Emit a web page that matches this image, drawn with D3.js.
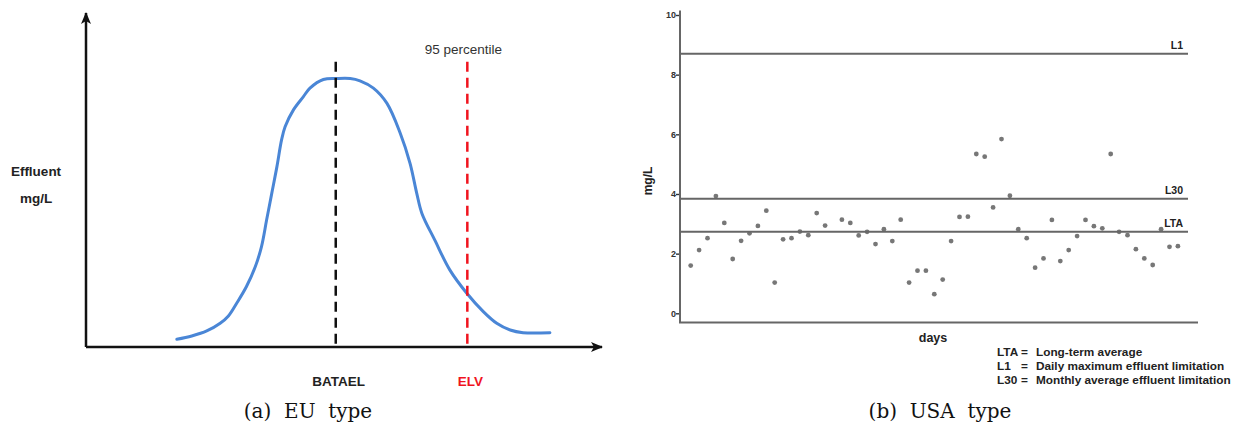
<!DOCTYPE html>
<html>
<head>
<meta charset="utf-8">
<script src="https://cdn.jsdelivr.net/npm/d3@7"></script>
<style>
  body { margin: 0; background: #fff; }
  svg { display: block; font-family: "Liberation Sans", Arial, sans-serif; }
</style>
</head>
<body>
<div class="vis"></div>
<script>
  let width = 1237
  let height = 427

  // (a) EU type: concentration distribution (x = concentration, y = frequency, 0..100)
  let curveX = [17.6, 20.5, 23.4, 26.0, 27.6, 29.2, 31.1, 32.8, 34.0, 35.0, 36.0, 37.0, 37.9, 38.6, 40.2, 42.1, 43.4,
    46.0, 48.6, 51.2, 53.1, 55.7, 58.3, 60.9, 62.8, 64.1, 65.1, 67.6, 70.5, 73.8, 77.0, 79.6, 82.2, 84.7, 89.9]
  let curveY = [2.3, 3.3, 4.8, 7.1, 9.3, 13.1, 18.1, 24.0, 30.0, 38.0, 46.0, 54.0, 62.0, 66.0, 71.0, 74.9, 77.5,
    80.1, 80.4, 80.4, 79.7, 77.5, 73.0, 64.0, 55.0, 46.0, 40.0, 32.0, 23.1, 16.1, 10.6, 7.1, 5.1, 4.3, 4.3]
  let markerNames = ['BATAEL', 'ELV']
  let markerX = [48.4, 73.9]
  let markerTop = 85.4

  // (b) USA type: daily effluent samples (mg/L), one per day, null = no sample
  let dailyValues = [1.60, 2.12, 2.52, 3.93, 3.03, 1.82, 2.43, 2.68, 2.93, 3.44, 1.03, 2.48, 2.52, 2.74, 2.62, 3.36,
    2.94, null, 3.14, 3.03, 2.61, 2.73, 2.32, 2.82, 2.42, 3.14, 1.03, 1.43, 1.43, 0.64, 1.13, 2.42, 3.23, 3.24,
    5.34, 5.25, 3.55, 5.84, 3.94, 2.82, 2.52, 1.53, 1.84, 3.13, 1.75, 2.12, 2.59, 3.13, 2.92, 2.85, 5.34, 2.73,
    2.62, 2.15, 1.84, 1.62, 2.82, 2.23, 2.25]
  let limitNames = ['L1', 'L30', 'LTA']
  let limitValues = [8.70, 3.84, 2.73]
  let yTicks = [0, 2, 4, 6, 8, 10]
  let legendKeys = ['LTA', 'L1', 'L30']
  let legendTexts = ['Long-term average', 'Daily maximum effluent limitation', 'Monthly average effluent limitation']

  let svg = d3.select('.vis').append('svg')
    .attr('width', width)
    .attr('height', height)
    .attr('viewBox', [0, 0, width, height])

  let defs = svg.append('defs')
  defs.append('marker')
    .attr('id', 'arrow')
    .attr('viewBox', '0 0 12 10')
    .attr('refX', 11)
    .attr('refY', 5)
    .attr('markerWidth', 12)
    .attr('markerHeight', 10)
    .attr('markerUnits', 'userSpaceOnUse')
    .attr('orient', 'auto')
    .append('path')
    .attr('d', 'M0,0 L12,5 L0,10 L3,5 Z')
    .attr('fill', '#111')

  // ---------- (a) EU type ----------
  let xA = d3.scaleLinear().domain([0, 100]).range([86, 602])
  let yA = d3.scaleLinear().domain([0, 100]).range([347, 13])

  let gA = svg.append('g')

  gA.append('line')
    .attr('x1', xA(0)).attr('y1', yA(0))
    .attr('x2', xA(0)).attr('y2', yA(100))
    .attr('stroke', '#111').attr('stroke-width', 2.5)
    .attr('marker-end', 'url(#arrow)')

  gA.append('line')
    .attr('x1', xA(0)).attr('y1', yA(0))
    .attr('x2', xA(100)).attr('y2', yA(0))
    .attr('stroke', '#111').attr('stroke-width', 2.5)
    .attr('marker-end', 'url(#arrow)')

  let line = d3.line()
    .x((d, i) => xA(curveX[i]))
    .y((d) => yA(d))
    .curve(d3.curveCatmullRom)

  gA.append('path')
    .datum(curveY)
    .attr('d', line)
    .attr('fill', 'none')
    .attr('stroke', '#4a86d6')
    .attr('stroke-width', 3)
    .attr('stroke-linecap', 'round')

  let markerColors = ['#111', '#f0141e']
  gA.selectAll('.marker-line')
    .data(markerX)
    .join('line')
    .attr('x1', (d) => xA(d)).attr('x2', (d) => xA(d))
    .attr('y1', yA(markerTop)).attr('y2', yA(0))
    .attr('stroke', (d, i) => markerColors[i])
    .attr('stroke-width', 2.5)
    .attr('stroke-dasharray', '10,6')

  gA.selectAll('.marker-label')
    .data(markerNames)
    .join('text')
    .attr('x', (d, i) => xA(markerX[i]) + 3)
    .attr('y', 386)
    .attr('text-anchor', 'middle')
    .attr('font-weight', 'bold')
    .attr('font-size', 13.5)
    .attr('fill', (d, i) => i === 0 ? '#222' : markerColors[i])
    .text((d) => d)

  gA.append('text')
    .attr('x', xA(markerX[1]) - 4)
    .attr('y', 54)
    .attr('text-anchor', 'middle')
    .attr('font-size', 13.5)
    .attr('fill', '#333')
    .text('95 percentile')

  gA.append('text')
    .attr('x', 36).attr('y', 176)
    .attr('text-anchor', 'middle')
    .attr('font-weight', 'bold').attr('font-size', 13.5)
    .attr('fill', '#222')
    .text('Effluent')

  gA.append('text')
    .attr('x', 36).attr('y', 203)
    .attr('text-anchor', 'middle')
    .attr('font-weight', 'bold').attr('font-size', 13.5)
    .attr('fill', '#222')
    .text('mg/L')

  // ---------- (b) USA type ----------
  let xB = d3.scaleLinear().domain([0, dailyValues.length - 1]).range([690.7, 1177.9])
  let yB = d3.scaleLinear().domain([0, 10]).range([313.3, 15])
  let axisLeftX = 680
  let plotRight = 1188
  let axisRight = 1198
  let bottomY = 322.5

  let gB = svg.append('g')

  let yAxis = (g) =>
    g
      .attr('transform', `translate(${axisLeftX - 1},0)`)
      .call(d3.axisLeft(yB).tickValues(yTicks).tickSize(3).tickPadding(0))
      .call((g) => g.select('.domain').remove())
      .call((g) => g.selectAll('.tick line').attr('stroke', '#333').attr('stroke-width', 1.4))
      .call((g) => g.selectAll('.tick text')
        .attr('fill', '#333')
        .attr('font-weight', 'bold')
        .attr('font-size', 9)
        .attr('font-family', '"Liberation Sans", Arial, sans-serif'))

  gB.append('g').call(yAxis)

  gB.append('line')
    .attr('x1', axisLeftX).attr('x2', axisLeftX)
    .attr('y1', 10.5).attr('y2', bottomY)
    .attr('stroke', '#666').attr('stroke-width', 2)

  gB.append('line')
    .attr('x1', axisLeftX - 1).attr('x2', axisRight)
    .attr('y1', bottomY).attr('y2', bottomY)
    .attr('stroke', '#666').attr('stroke-width', 2)

  gB.append('g')
    .selectAll('circle')
    .data(dailyValues.map((v, i) => [i, v]).filter((d) => d[1] !== null))
    .join('circle')
    .attr('cx', (d) => xB(d[0]))
    .attr('cy', (d) => yB(d[1]))
    .attr('r', 2.4)
    .attr('fill', '#777')

  gB.selectAll('.limit')
    .data(limitValues)
    .join('line')
    .attr('x1', axisLeftX).attr('x2', plotRight)
    .attr('y1', (d) => yB(d)).attr('y2', (d) => yB(d))
    .attr('stroke', '#666').attr('stroke-width', 2)

  gB.selectAll('.limit-label')
    .data(limitNames)
    .join('text')
    .attr('x', 1183)
    .attr('y', (d, i) => yB(limitValues[i]) - 5)
    .attr('text-anchor', 'end')
    .attr('font-weight', 'bold')
    .attr('font-size', 10.5)
    .attr('fill', '#222')
    .text((d) => d)

  gB.append('text')
    .attr('transform', `translate(652,181)rotate(-90)`)
    .attr('text-anchor', 'middle')
    .attr('font-weight', 'bold')
    .attr('font-size', 12)
    .attr('fill', '#222')
    .text('mg/L')

  gB.append('text')
    .attr('x', 933).attr('y', 342)
    .attr('text-anchor', 'middle')
    .attr('font-weight', 'bold')
    .attr('font-size', 12.5)
    .attr('fill', '#222')
    .text('days')

  let legend = gB.append('g')
    .selectAll('g')
    .data(legendKeys)
    .join('g')
    .attr('transform', (d, i) => `translate(0,${356 + i * 14})`)
    .attr('font-weight', 'bold')
    .attr('font-size', 11.8)
    .attr('fill', '#222')

  legend.append('text').attr('x', 997).text((d) => d)
  legend.append('text').attr('x', 1021).text('=')
  legend.append('text').attr('x', 1036).text((d, i) => legendTexts[i])

  // ---------- captions ----------
  let captions = ['(a)  EU  type', '(b)  USA  type']
  let captionX = [308, 940]
  svg.selectAll('.caption')
    .data(captions)
    .join('text')
    .attr('x', (d, i) => captionX[i])
    .attr('y', 418)
    .attr('text-anchor', 'middle')
    .attr('font-family', '"DejaVu Serif", "Liberation Serif", serif')
    .attr('font-size', 20)
    .attr('fill', '#111')
    .attr('xml:space', 'preserve')
    .style('white-space', 'pre')
    .text((d) => d)
</script>
</body>
</html>
